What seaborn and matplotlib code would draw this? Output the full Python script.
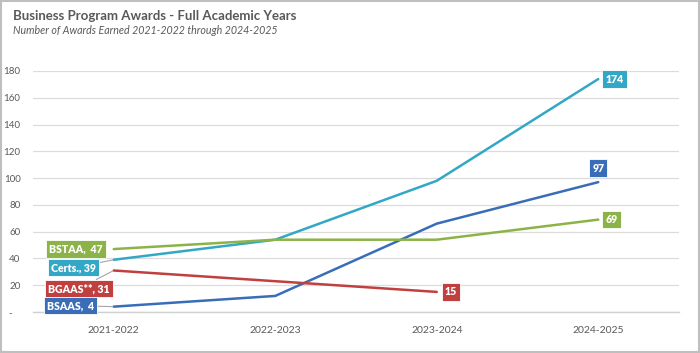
import matplotlib
matplotlib.use("Agg")
import matplotlib.pyplot as plt
import seaborn as sns
import pandas as pd
import numpy as np
from matplotlib.patches import Rectangle

# ---- data ----
years = ["2021-2022", "2022-2023", "2023-2024", "2024-2025"]
certs = [39, 54, 98, 174]
bsaas = [4, 12, 66, 97]
bstaa = [47, 54, 54, 69]
bgaas = [31, 23, 15, np.nan]
series_names = ["Certs.", "BSAAS", "BSTAA", "BGAAS**"]
colors = {"Certs.": "#33A7C6", "BSAAS": "#3A6DB8", "BSTAA": "#8CB347", "BGAAS**": "#C0403F"}
y_ticks = [0, 20, 40, 60, 80, 100, 120, 140, 160, 180]
y_tick_labels = ["-   ", "20", "40", "60", "80", "100", "120", "140", "160", "180"]

title = "Business Program Awards - Full Academic Years"
subtitle = "Number of Awards Earned 2021-2022 through 2024-2025"

values = {"Certs.": certs, "BSAAS": bsaas, "BSTAA": bstaa, "BGAAS**": bgaas}
rows = []
for name in series_names:
    for i, v in enumerate(values[name]):
        rows.append({"idx": i, "year": years[i], "series": name, "value": v})
df = pd.DataFrame(rows).dropna()

# ---- styling ----
sns.set_theme(style="white")
plt.rcParams["font.family"] = ["Lato", "DejaVu Sans"]

fig = plt.figure(figsize=(7.0, 3.53), dpi=100)
ax = fig.add_axes([33 / 700, 1 - 312 / 353, (679 - 33) / 700, (312 - 71) / 353])

sns.lineplot(data=df, x="idx", y="value", hue="series", hue_order=series_names,
             palette=colors, linewidth=1.8, legend=False, ax=ax, sort=False)

ax.set_xlim(-0.5, len(years) - 0.5)
ax.set_ylim(0, 180)
ax.set_xticks(range(len(years)))
ax.set_xticklabels(years, fontsize=7.5, color="#595959")
ax.set_yticks(y_ticks)
ax.set_yticklabels(y_tick_labels, fontsize=7, color="#595959")
ax.tick_params(axis="both", length=0)
ax.tick_params(axis="x", pad=10)
ax.tick_params(axis="y", pad=9)
ax.set_xlabel("")
ax.set_ylabel("")
ax.yaxis.grid(True, color="#DCDCDC", linewidth=0.9)
ax.set_axisbelow(True)
for s in ["top", "right", "left"]:
    ax.spines[s].set_visible(False)
ax.spines["bottom"].set_color("#D0D0D0")
ax.spines["bottom"].set_linewidth(1.0)
ax.patch.set_alpha(0)

# ---- data labels ----
def label(name, i, text, dx, dy, ha, leader=False):
    v = values[name][i]
    kw = dict(xy=(i, v), xytext=(dx, dy), textcoords="offset pixels",
              ha=ha, va="center", fontsize=7.6, fontweight="heavy", color="white",
              bbox=dict(boxstyle="square,pad=0.3", fc=colors[name],
                        ec="#FFFFFF", lw=0.6, alpha=1), zorder=5)
    if leader:
        kw["arrowprops"] = dict(arrowstyle="-", color="#A6A6A6", lw=0.8,
                                shrinkA=0, shrinkB=1)
    ax.annotate(text, **kw)

label("BSTAA", 0, f"BSTAA,  {bstaa[0]}", -11, 0, "right")
label("Certs.", 0, f"Certs., {certs[0]}", -18, -8, "right", leader=True)
label("BGAAS**", 0, f"BGAAS**, {bgaas[0]}", -4, -18, "right", leader=True)
label("BSAAS", 0, f"BSAAS,  {bsaas[0]}", -20, 1, "right", leader=True)

label("Certs.", 3, f"{certs[3]}", 7, 0, "left")
label("BSAAS", 3, f"{bsaas[3]}", 0, 14, "center")
label("BSTAA", 3, f"{bstaa[3]}", 7, 0, "left")
label("BGAAS**", 2, f"{int(bgaas[2])}", 8, 0, "left")

# ---- titles ----
fig.text(13 / 700, 1 - 20 / 353, title, fontsize=9.5, fontweight="bold",
         color="#595959", ha="left", va="baseline")
fig.text(13 / 700, 1 - 34 / 353, subtitle, fontsize=7.7, fontstyle="italic",
         color="#595959", ha="left", va="baseline")

# border
fig.patches.append(Rectangle((0.001, 0.002), 0.997, 0.995, transform=fig.transFigure,
                             fill=False, ec="#BFBFBF", lw=1.5))

fig.savefig("out.png", dpi=100)
